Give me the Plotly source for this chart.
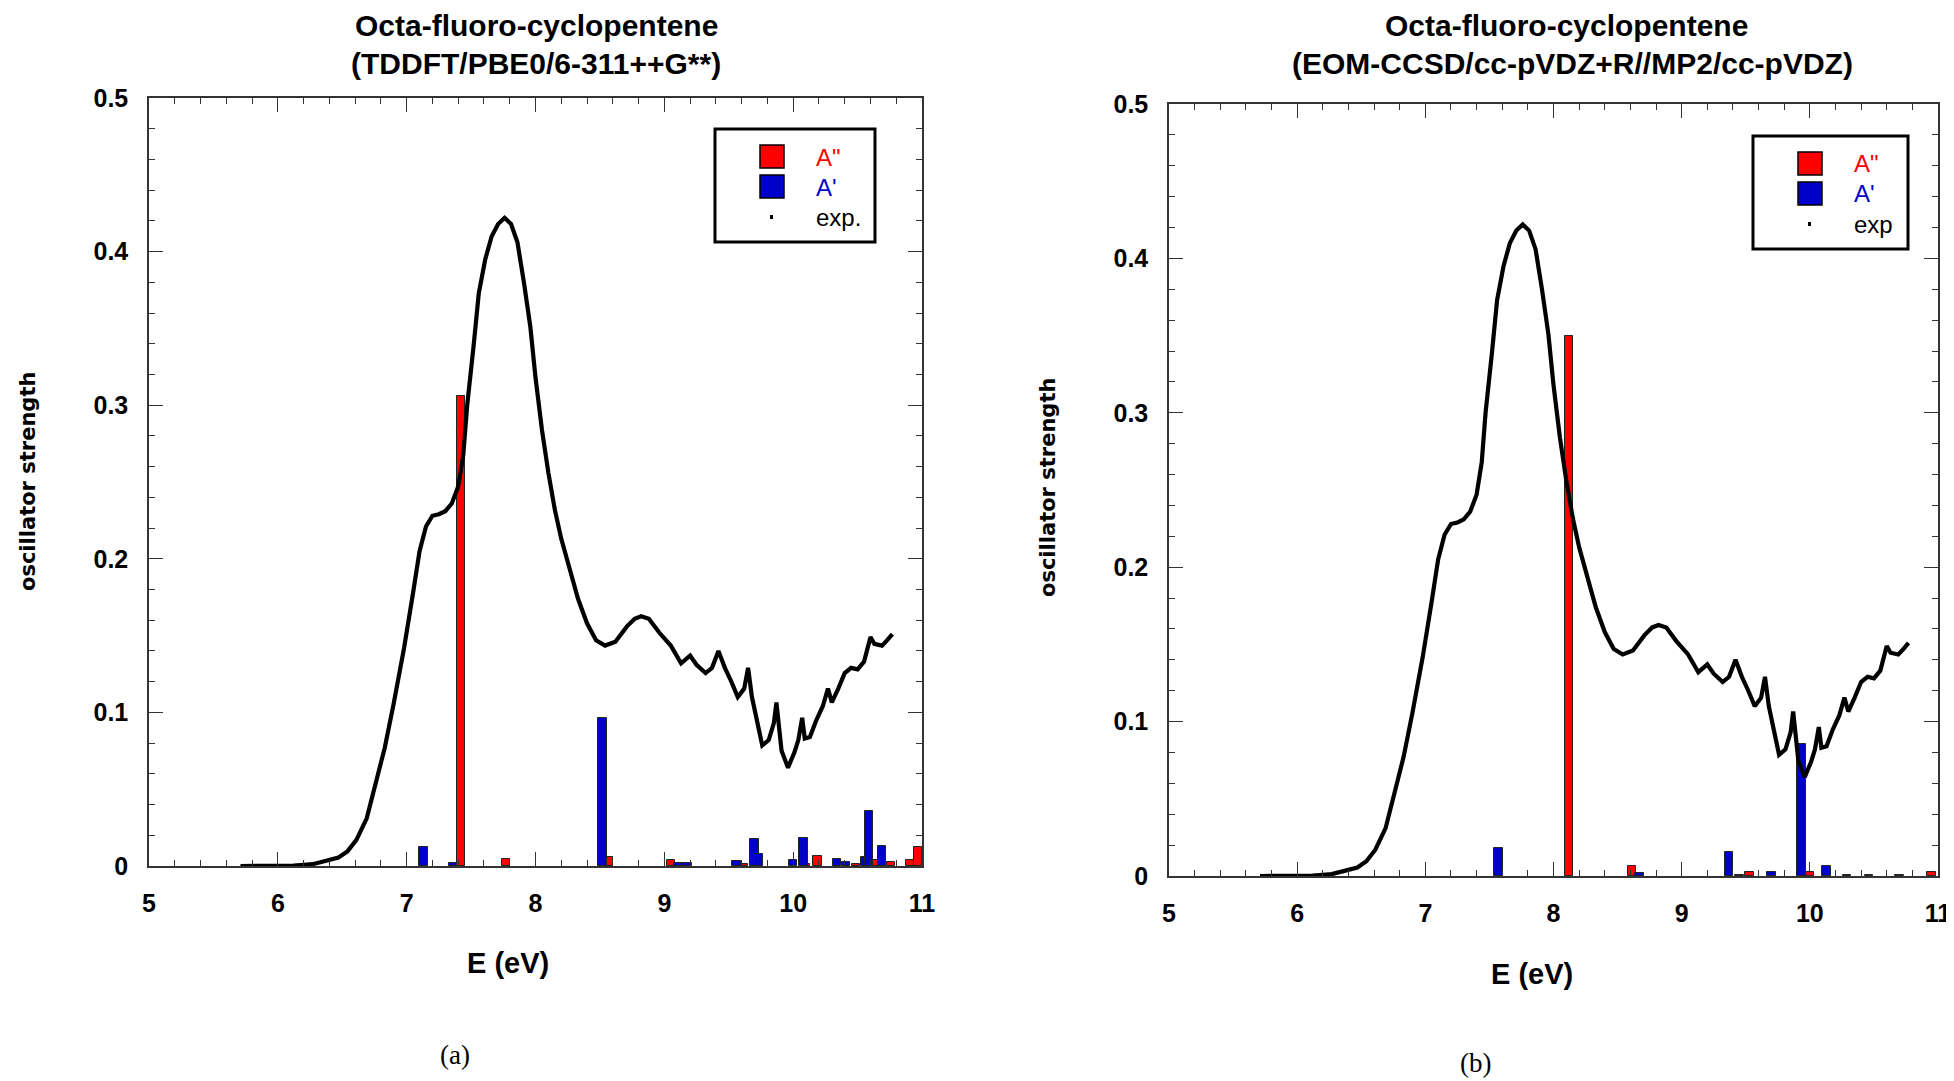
import plotly.graph_objects as go

W, H = 1954, 1081
OFF = 8  # default page body margin of the html page
FW, FH = W - OFF, H - OFF

# ---------------- data ----------------
exp_E = [5.71, 5.80, 5.90, 6.00, 6.12, 6.20, 6.27, 6.33, 6.37, 6.42, 6.47, 6.54, 6.61, 6.69,
         6.76, 6.83, 6.90, 6.98, 7.05, 7.10, 7.15, 7.20, 7.25, 7.30, 7.35, 7.40, 7.44, 7.47,
         7.52, 7.56, 7.61, 7.66, 7.71, 7.76, 7.81, 7.86, 7.91, 7.96, 8.00, 8.05, 8.10, 8.15,
         8.20, 8.25, 8.29, 8.33, 8.40, 8.47, 8.54, 8.62, 8.71, 8.77, 8.82, 8.88, 8.96, 9.05,
         9.13, 9.20, 9.25, 9.32, 9.37, 9.42, 9.47, 9.52, 9.57, 9.62, 9.65, 9.68, 9.71, 9.74,
         9.76, 9.81, 9.85, 9.87, 9.89, 9.91, 9.96, 10.01, 10.04, 10.07, 10.09, 10.13, 10.18,
         10.23, 10.27, 10.30, 10.35, 10.40, 10.45, 10.50, 10.55, 10.60, 10.63, 10.69, 10.73, 10.77]
exp_f = [0.000, 0.000, 0.000, 0.000, 0.0003, 0.0008, 0.0012, 0.0025, 0.0035, 0.0042, 0.0055,
         0.0095, 0.017, 0.031, 0.053, 0.077, 0.106, 0.142, 0.178, 0.205, 0.221, 0.228, 0.229,
         0.231, 0.236, 0.247, 0.268, 0.300, 0.339, 0.373, 0.395, 0.410, 0.418, 0.422, 0.418,
         0.406, 0.380, 0.351, 0.318, 0.284, 0.256, 0.232, 0.213, 0.199, 0.186, 0.174, 0.158,
         0.147, 0.1435, 0.146, 0.156, 0.161, 0.1626, 0.161, 0.152, 0.1435, 0.132, 0.137, 0.131,
         0.1256, 0.129, 0.140, 0.129, 0.120, 0.110, 0.1155, 0.129, 0.110, 0.0975, 0.086, 0.0785,
         0.082, 0.093, 0.1065, 0.0885, 0.075, 0.064, 0.074, 0.082, 0.0965, 0.083, 0.084, 0.095,
         0.104, 0.1155, 0.1065, 0.1155, 0.1256, 0.129, 0.128, 0.133, 0.149, 0.1446, 0.1435,
         0.147, 0.151]

# (a) TDDFT/PBE0/6-311++G**
tddft_A2_E = [7.42, 7.77, 8.57, 9.05, 9.62, 10.10, 10.19, 10.49, 10.65, 10.76, 10.91, 10.97]
tddft_A2_f = [0.306, 0.0045, 0.0058, 0.0039, 0.001, 0.001, 0.0067, 0.001, 0.0041, 0.0026, 0.0041, 0.0125]
tddft_A1_E = [7.13, 7.36, 8.52, 9.11, 9.18, 9.56, 9.70, 9.73, 10.00, 10.08, 10.34, 10.41, 10.56, 10.59, 10.69]
tddft_A1_f = [0.0123, 0.002, 0.0966, 0.0017, 0.0017, 0.0032, 0.0176, 0.0077, 0.0041, 0.0185, 0.0043,
              0.0026, 0.006, 0.0359, 0.0133]

# (b) EOM-CCSD/cc-pVDZ+R//MP2/cc-pVDZ
eom_A2_E = [8.12, 8.61, 9.53, 10.00, 10.95]
eom_A2_f = [0.350, 0.0065, 0.0028, 0.0028, 0.0026]
eom_A1_E = [7.57, 8.67, 9.37, 9.45, 9.70, 9.935, 10.13, 10.29, 10.46, 10.70]
eom_A1_f = [0.0181, 0.0017, 0.0155, 0.0004, 0.0026, 0.0854, 0.0067, 0.0004, 0.0004, 0.0004]

x_ticks = [5, 6, 7, 8, 9, 10, 11]
y_ticks = [0, 0.1, 0.2, 0.3, 0.4, 0.5]
y_ticklabels = ["0", "0.1", "0.2", "0.3", "0.4", "0.5"]

titles = [("Octa-fluoro-cyclopentene", "(TDDFT/PBE0/6-311++G**)"),
          ("Octa-fluoro-cyclopentene", "(EOM-CCSD/cc-pVDZ+R//MP2/cc-pVDZ)")]
legend_exp = ["exp.", "exp"]

RED = "#FF0000"
BLUE = "#0000CC"
AXC = "#333333"
SANS = "Liberation Sans, Arial, sans-serif"


def px(x):
    return (x - OFF) / FW


def py(y):
    return 1 - (y - OFF) / FH


# plot boxes in screen pixels (left, top, right, bottom)
boxes = [(149, 98, 922, 866), (1169, 104, 1938, 876)]

fig = go.Figure()

panels = [(tddft_A2_E, tddft_A2_f, tddft_A1_E, tddft_A1_f),
          (eom_A2_E, eom_A2_f, eom_A1_E, eom_A1_f)]

for i, (a2E, a2f, a1E, a1f) in enumerate(panels):
    xa = "x" if i == 0 else "x2"
    ya = "y" if i == 0 else "y2"
    fig.add_trace(go.Bar(x=a2E, y=a2f, width=0.065, marker=dict(color=RED, line=dict(color="#222", width=1)),
                         xaxis=xa, yaxis=ya, showlegend=False))
    fig.add_trace(go.Bar(x=a1E, y=a1f, width=0.065, marker=dict(color=BLUE, line=dict(color="#222", width=1)),
                         xaxis=xa, yaxis=ya, showlegend=False))
    fig.add_trace(go.Scatter(x=exp_E, y=exp_f, mode="lines", line=dict(color="black", width=4.2),
                             xaxis=xa, yaxis=ya, showlegend=False))

axis_common = dict(showline=True, linecolor=AXC, linewidth=1.5, mirror="ticks", ticks="inside",
                   tickcolor=AXC, tickwidth=1.3, ticklen=14, showgrid=False, zeroline=False,
                   automargin=False,
                   tickfont=dict(family=SANS, size=25, color="black", weight="bold"))

for i, (l, t, r, b) in enumerate(boxes):
    sfx = "" if i == 0 else "2"
    xax = dict(axis_common, domain=[px(l), px(r)], range=[5, 11], tickvals=x_ticks,
               ticktext=[str(v) for v in x_ticks], ticklabelstandoff=14,
               minor=dict(ticks="inside", ticklen=6, dtick=0.2, tick0=5, tickcolor=AXC, tickwidth=1.3),
               anchor="y" + sfx)
    yax = dict(axis_common, domain=[py(b), py(t)], range=[0, 0.5], tickvals=y_ticks,
               ticktext=y_ticklabels, ticklabelstandoff=14,
               minor=dict(ticks="inside", ticklen=6, dtick=0.02, tick0=0, tickcolor=AXC, tickwidth=1.3),
               anchor="x" + sfx)
    fig.layout["xaxis" + sfx] = xax
    fig.layout["yaxis" + sfx] = yax

ann = []
shapes = []

# titles
title_pos = [((536, 26), (536, 64)), ((1566, 26), (1572, 63))]
for (l1, l2), ((x1, y1), (x2, y2)) in zip(titles, title_pos):
    ann.append(dict(text=l1, x=px(x1), y=py(y1), xref="paper", yref="paper", showarrow=False,
                    xanchor="center", yanchor="middle",
                    font=dict(family=SANS, size=30, color="black", weight="bold")))
    ann.append(dict(text=l2, x=px(x2), y=py(y2), xref="paper", yref="paper", showarrow=False,
                    xanchor="center", yanchor="middle",
                    font=dict(family=SANS, size=30, color="black", weight="bold")))

# axis titles
for (xx, yy) in [(508, 963), (1532, 974)]:
    ann.append(dict(text="E (eV)", x=px(xx), y=py(yy), xref="paper", yref="paper", showarrow=False,
                    xanchor="center", yanchor="middle",
                    font=dict(family=SANS, size=29, color="black", weight="bold")))
for (xx, yy) in [(28, 482), (1048, 488)]:
    ann.append(dict(text="oscillator strength", x=px(xx), y=py(yy), xref="paper", yref="paper",
                    showarrow=False, textangle=-90, xanchor="center", yanchor="middle",
                    font=dict(family="DejaVu Sans, sans-serif", size=21, color="black", weight="bold")))

# panel labels
for lab, (xx, yy) in [("(a)", (455, 1055)), ("(b)", (1475, 1063))]:
    ann.append(dict(text=lab, x=px(xx), y=py(yy), xref="paper", yref="paper", showarrow=False,
                    xanchor="center", yanchor="middle",
                    font=dict(family="Liberation Serif, Times New Roman, serif", size=27, color="black")))

# legends (box, swatches, labels)
leg_boxes = [(715, 129, 875, 242), (1753, 136, 1908, 249)]
for k, (l, t, r, b) in enumerate(leg_boxes):
    shapes.append(dict(type="rect", xref="paper", yref="paper", x0=px(l), x1=px(r), y0=py(b), y1=py(t),
                       line=dict(color="black", width=3), fillcolor="white", layer="above"))
    sx = l + 45
    for j, (col, lab) in enumerate([(RED, 'A"'), (BLUE, "A'")]):
        sy = t + 16 + j * 30
        shapes.append(dict(type="rect", xref="paper", yref="paper", x0=px(sx), x1=px(sx + 24),
                           y0=py(sy + 23), y1=py(sy), line=dict(color="black", width=1.5),
                           fillcolor=col, layer="above"))
        ann.append(dict(text=lab, x=px(l + 99), y=py(sy + 12), xref="paper", yref="paper",
                        showarrow=False, xanchor="left", yanchor="middle",
                        font=dict(family=SANS, size=24, color=col)))
    dy = t + 88
    shapes.append(dict(type="rect", xref="paper", yref="paper", x0=px(sx + 10), x1=px(sx + 13),
                       y0=py(dy + 2), y1=py(dy - 2), line=dict(width=0), fillcolor="black", layer="above"))
    ann.append(dict(text=legend_exp[k], x=px(l + 99), y=py(dy), xref="paper", yref="paper",
                    showarrow=False, xanchor="left", yanchor="middle",
                    font=dict(family=SANS, size=24, color="black")))

fig.update_layout(width=FW, height=FH, margin=dict(l=0, r=0, t=0, b=0, autoexpand=False),
                  paper_bgcolor="white", plot_bgcolor="white", barmode="overlay", bargap=0,
                  annotations=ann, shapes=shapes, showlegend=False)

fig.write_html("out.html")
